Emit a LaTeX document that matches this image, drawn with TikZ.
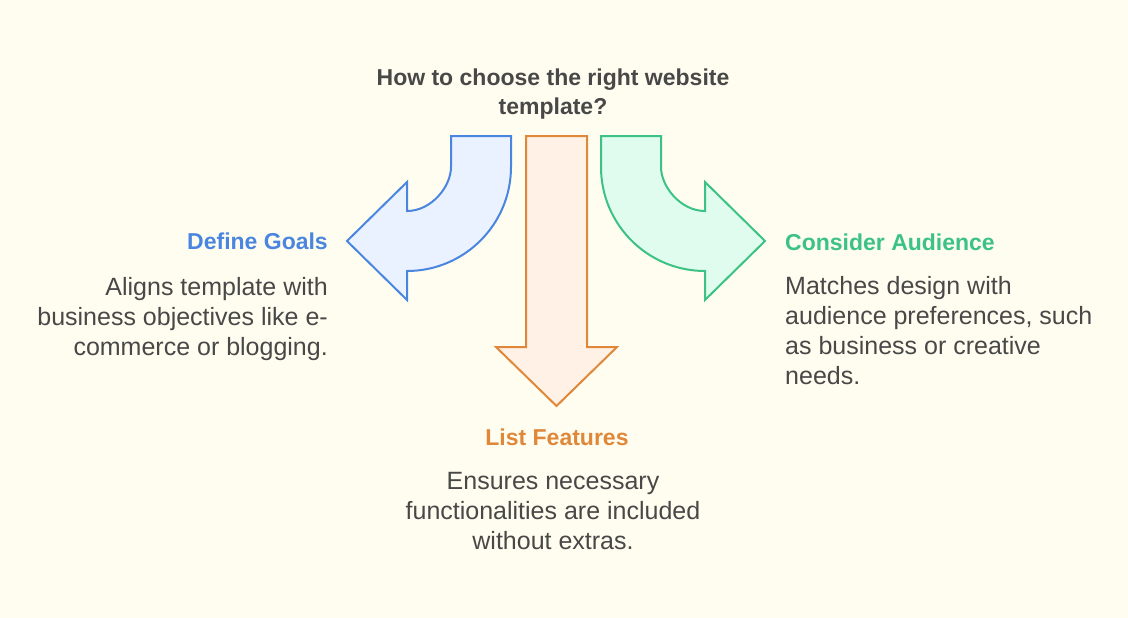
\documentclass[tikz,border=0pt]{standalone}
\usepackage{fontspec}
\setmainfont{Liberation Sans}
\usepackage{xcolor}
\usepackage{tikz}
\usetikzlibrary{positioning}

\definecolor{bgcream}{HTML}{FFFDEF}
\definecolor{txtgray}{HTML}{484848}
\definecolor{goalblue}{HTML}{4A86E0}
\definecolor{goalfill}{HTML}{EAF2FF}
\definecolor{featorange}{HTML}{E0883A}
\definecolor{featfill}{HTML}{FFF1E5}
\definecolor{audgreen}{HTML}{3DC285}
\definecolor{audfill}{HTML}{DFFCEE}

\begin{document}
\begin{tikzpicture}[x=1pt,y=-1pt,
    headtxt/.style={inner sep=0pt, font=\fontsize{23}{29}\selectfont\bfseries},
    bodytxt/.style={inner sep=0pt, text=txtgray, font=\fontsize{25}{30}\selectfont},
    bendarrow/.style={line width=2pt, line join=miter}]
    % Background
    \fill[bgcream] (0,0) rectangle (1128,618);
    \useasboundingbox (0,0) rectangle (1128,618);

    % Title
    \node[headtxt, text=txtgray, align=center, anchor=north] (title) at (553,69)
        {How to choose the right website\\template?};

    % Define Goals arrow
    \draw[bendarrow, goalblue, fill=goalfill] (451,136) -- (511,136) -- (511,167)
        .. controls (511,224.4) and (464.4,271) .. (407,271) -- (407,300)
        -- (347,241) -- (407,182) -- (407,211)
        .. controls (431.3,211) and (451,186.7) .. (451,167) -- cycle;

    % List Features arrow
    \draw[bendarrow, featorange, fill=featfill] (526,136) -- (587,136) -- (587,347)
        -- (617,347) -- (556.5,406) -- (496,347) -- (526,347) -- cycle;

    % Consider Audience arrow
    \draw[bendarrow, audgreen, fill=audfill] (661,136) -- (601,136) -- (601,167)
        .. controls (601,224.4) and (647.6,271) .. (705,271) -- (705,300)
        -- (765,241) -- (705,182) -- (705,211)
        .. controls (680.7,211) and (661,186.7) .. (661,167) -- cycle;

    % Labels
    \node[headtxt, text=goalblue, anchor=base east] (goals) at (328,249) {Define Goals};
    \node[bodytxt, align=right, anchor=north east] (goalstext) at (328,277)
        {Aligns template with\\business objectives like e-\\commerce or blogging.};

    \node[headtxt, text=featorange, anchor=base] (feat) at (557,445) {List Features};
    \node[bodytxt, align=center, anchor=north] (feattext) at (553,472)
        {Ensures necessary\\functionalities are included\\without extras.};

    \node[headtxt, text=audgreen, anchor=base west] (aud) at (785,250) {Consider Audience};
    \node[bodytxt, align=left, anchor=north west] (audtext) at (785,276)
        {Matches design with\\audience preferences, such\\as business or creative\\needs.};
\end{tikzpicture}
\end{document}
